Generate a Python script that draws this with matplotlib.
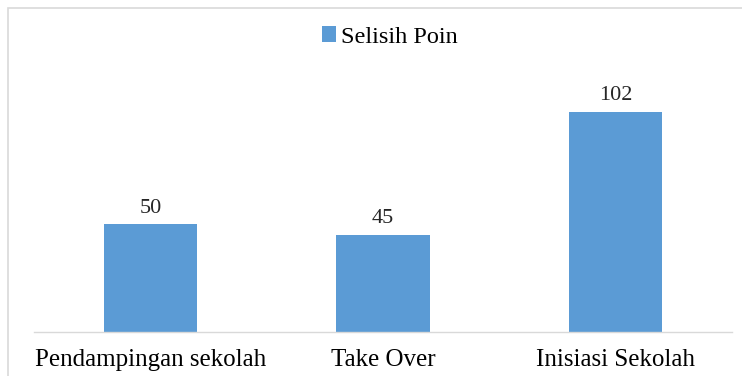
import matplotlib
matplotlib.use("Agg")
import matplotlib.pyplot as plt
from matplotlib.patches import Rectangle

categories = ["Pendampingan sekolah", "Take Over", "Inisiasi Sekolah"]
selisih_poin = [50, 45, 102]
series_name = "Selisih Poin"

plt.rcParams['font.family'] = ['Liberation Serif', 'DejaVu Serif']

W, H = 742, 376
fig = plt.figure(figsize=(W / 100, H / 100), dpi=100)

# outer chart border (cropped at right and bottom in the reference)
fig.patches.append(Rectangle((8 / W, -0.1), 1.2, 1 - 8 / H + 0.1,
                             transform=fig.transFigure, fill=False,
                             edgecolor='#d9d9d9', linewidth=1.2))

# axes: left 34px, right 732px, baseline at y=332, top at y=73
ax = fig.add_axes([34 / W, (H - 332) / H, (732 - 34) / W, (332 - 73) / H])
x = range(len(categories))
bars = ax.bar(x, selisih_poin, width=0.4, color='#5b9bd5', label=series_name)
ax.set_xlim(-0.5, len(categories) - 0.5)
ax.set_ylim(0, 120)

for b, v in zip(bars, selisih_poin):
    ax.text(b.get_x() + b.get_width() / 2, v + 3, str(v),
            ha='center', va='bottom', fontsize=16, color='#262626')

ax.set_xticks(list(x))
ax.set_xticklabels(categories, fontsize=18, color='#000000')
ax.tick_params(axis='x', length=0, pad=12)
ax.set_yticks([])
for s in ['top', 'left', 'right']:
    ax.spines[s].set_visible(False)
ax.spines['bottom'].set_color('#d9d9d9')
ax.spines['bottom'].set_linewidth(1)

fig.legend(loc='center', bbox_to_anchor=(390 / W, 1 - 37 / H), frameon=False,
           fontsize=17.5, handlelength=0.6, handleheight=0.6, handletextpad=0.2)

fig.savefig("out.png", dpi=100)
